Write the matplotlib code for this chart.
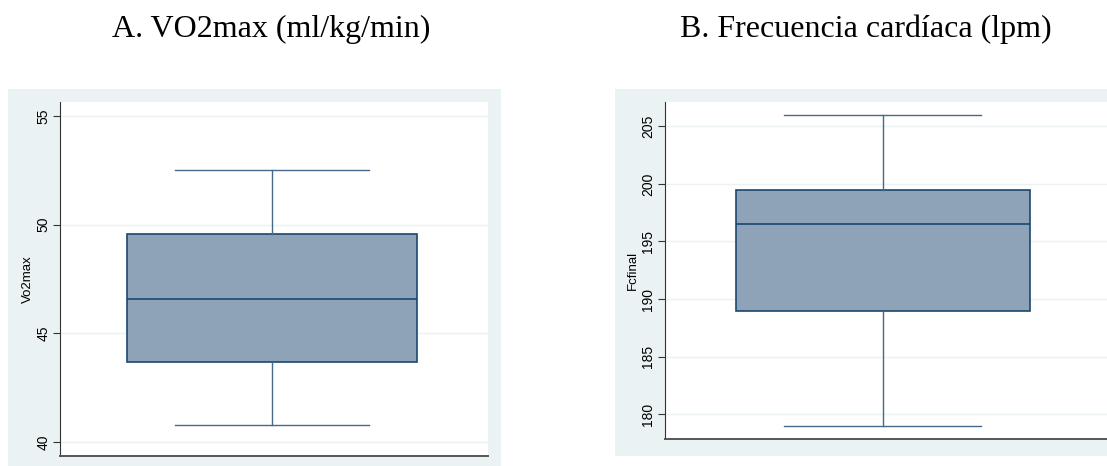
import matplotlib.pyplot as plt
from matplotlib.patches import Rectangle

# box summaries
titles = ["A. VO2max (ml/kg/min)", "B. Frecuencia cardíaca (lpm)"]
ylabels = ["Vo2max", "Fcfinal"]
q1 = [43.68, 189.0]
median = [46.58, 196.5]
q3 = [49.59, 199.5]
whis_lo = [40.78, 179.0]
whis_hi = [52.5, 206.0]
yticks = [[40, 45, 50, 55], [180, 185, 190, 195, 200, 205]]
ylims = [(39.36, 55.64), (177.86, 207.1)]

NAVY = "#1a476f"
FILL = "#8ea3b8"
BG = "#eaf2f3"

W, H = 1107, 466
fig = plt.figure(figsize=(W / 100, H / 100), dpi=100)


def px(x0, y0, x1, y1):
    # pixel box (top-left origin) -> figure rect
    return [x0 / W, 1 - y1 / H, (x1 - x0) / W, (y1 - y0) / H]


# light panel backgrounds
for x0, y0, x1, y1 in [(8, 89, 501, 466), (615, 89, 1107, 456)]:
    r = px(x0, y0, x1, y1)
    fig.patches.append(Rectangle((r[0], r[1]), r[2], r[3], transform=fig.transFigure,
                                 facecolor=BG, edgecolor="none", zorder=-5))

axes_px = [(60, 102, 488, 456), (665, 102, 1120, 439)]
xlims = [(-0.495, 0.505), (-0.479, 0.521)]
box_w = [0.678, 0.648]
cap_w = [0.453, 0.433]
title_x = [271, 866]

for i in range(2):
    ax = fig.add_axes(px(*axes_px[i]), zorder=2)
    stats = [{"med": median[i], "q1": q1[i], "q3": q3[i],
              "whislo": whis_lo[i], "whishi": whis_hi[i], "fliers": []}]
    ax.bxp(stats, positions=[0], widths=box_w[i], patch_artist=True,
           showfliers=False, capwidths=cap_w[i],
           boxprops=dict(facecolor=FILL, edgecolor=NAVY, linewidth=1.2),
           medianprops=dict(color=NAVY, linewidth=1.2),
           whiskerprops=dict(color="#46698a", linewidth=1.0),
           capprops=dict(color="#46698a", linewidth=1.0))
    ax.set_xlim(*xlims[i])
    ax.set_ylim(*ylims[i])
    ax.set_yticks(yticks[i])
    ax.set_xticks([])
    ax.yaxis.grid(True, color=BG, linewidth=1.0)
    ax.set_axisbelow(True)
    for s in ["top", "right"]:
        ax.spines[s].set_visible(False)
    ax.spines["left"].set_color("#333333")
    ax.spines["bottom"].set_color("#555555")
    ax.spines["bottom"].set_linewidth(1.4)
    ax.tick_params(axis="y", direction="out", length=5, width=0.8, color="#333333",
                   labelsize=10, labelrotation=90, pad=2)
    for lab in ax.get_yticklabels():
        lab.set_fontfamily("Liberation Sans")
        lab.set_verticalalignment("center")
    ax.set_ylabel(ylabels[i], fontsize=9.5, family="Liberation Sans", labelpad=2)
    fig.text(title_x[i] / W, 1 - 37 / H, titles[i], ha="center", va="baseline",
             fontsize=23, family="Liberation Serif")

fig.savefig("out.png", dpi=100)
